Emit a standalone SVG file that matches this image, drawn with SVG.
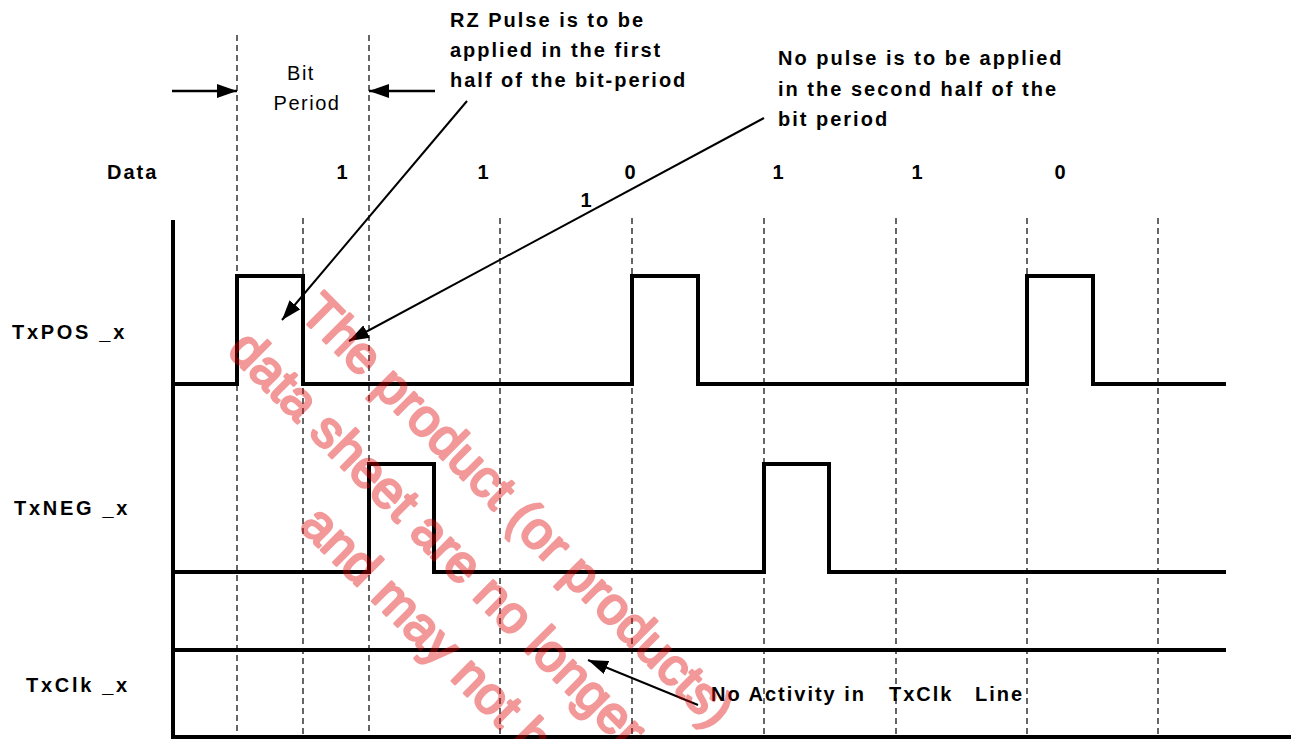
<svg xmlns="http://www.w3.org/2000/svg" width="1291" height="739" viewBox="0 0 1291 739">
<style>
.lbl{font-family:"Liberation Sans",Arial,sans-serif;font-weight:bold;font-size:20px;letter-spacing:2px;fill:#000}
.sig{font-family:"Liberation Sans",Arial,sans-serif;font-weight:bold;font-size:20px;letter-spacing:2.7px;fill:#000}
.norm{font-family:"Liberation Sans",Arial,sans-serif;font-size:20px;letter-spacing:1.5px;fill:#000}
.wave{fill:none;stroke:#000;stroke-width:4;stroke-linejoin:miter;stroke-linecap:square}
.dash{fill:none;stroke:#000;stroke-width:1.2;stroke-dasharray:6 4}
.arr{fill:none;stroke:#000;stroke-width:2;marker-end:url(#ah2)}
.arrt{fill:none;stroke:#000;stroke-width:2.5;marker-end:url(#ah2)}
.wm{font-family:"Liberation Sans",Arial,sans-serif;font-size:52px;fill:#e00000;stroke:#e00000;stroke-width:2.6;stroke-linejoin:round}
</style>
<defs>
<marker id="ah2" viewBox="0 0 10 10" refX="10" refY="5" markerWidth="20" markerHeight="14" markerUnits="userSpaceOnUse" orient="auto" preserveAspectRatio="none">
<path d="M0,0 L10,5 L0,10 Z" fill="#000"/>
</marker>
</defs>
<rect width="1291" height="739" fill="#fff"/>

<g id="grid">
<line class="dash" x1="237" y1="35" x2="237" y2="737"/>
<line class="dash" x1="303" y1="218" x2="303" y2="737"/>
<line class="dash" x1="369" y1="35" x2="369" y2="737"/>
<line class="dash" x1="500" y1="218" x2="500" y2="737"/>
<line class="dash" x1="632" y1="218" x2="632" y2="737"/>
<line class="dash" x1="764" y1="218" x2="764" y2="737"/>
<line class="dash" x1="896" y1="218" x2="896" y2="737"/>
<line class="dash" x1="1027" y1="218" x2="1027" y2="737"/>
<line class="dash" x1="1158" y1="218" x2="1158" y2="737"/>
</g>

<g id="axis">
<path class="wave" d="M173,222 V737 H1291"/>
</g>

<g id="txpos">
<path class="wave" d="M173,384 H237 V276 H303 V384 H632 V276 H698 V384 H1027 V276 H1093 V384 H1224"/>
<text class="sig" x="12" y="339">TxPOS _x</text>
</g>
<g id="txneg">
<path class="wave" d="M173,572 H369 V464 H434 V572 H764 V464 H829 V572 H1224"/>
<text class="sig" x="14" y="515">TxNEG _x</text>
</g>
<g id="txclk">
<path class="wave" d="M173,650 H1224"/>
<text class="sig" x="26" y="692">TxClk _x</text>
</g>

<g id="data">
<text class="lbl" x="107" y="179">Data</text>
<text class="lbl" x="343" y="179" text-anchor="middle">1</text>
<text class="lbl" x="484" y="179" text-anchor="middle">1</text>
<text class="lbl" x="631" y="179" text-anchor="middle">0</text>
<text class="lbl" x="779" y="179" text-anchor="middle">1</text>
<text class="lbl" x="918" y="179" text-anchor="middle">1</text>
<text class="lbl" x="1061" y="179" text-anchor="middle">0</text>
<text class="lbl" x="587" y="207" text-anchor="middle">1</text>
</g>

<g id="bitperiod">
<text class="norm" x="301" y="80" text-anchor="middle">Bit</text>
<text class="norm" x="307" y="110" text-anchor="middle">Period</text>
</g>

<g id="note-rz">
<text class="lbl" x="450" y="27">RZ Pulse is to be</text>
<text class="lbl" x="450" y="57">applied in the first</text>
<text class="lbl" x="450" y="87">half of the bit-period</text>
</g>
<g id="note-nopulse">
<text class="lbl" x="778" y="65">No pulse is to be applied</text>
<text class="lbl" x="778" y="96">in the second half of the</text>
<text class="lbl" x="778" y="126">bit period</text>
</g>
<g id="note-txclk">
<text class="lbl" y="701"><tspan x="711">No Activity in</tspan><tspan x="889">TxClk</tspan><tspan x="975">Line</tspan></text>
</g>

<g id="connectors">
<line class="arrt" x1="172" y1="91" x2="237" y2="91"/>
<line class="arrt" x1="435" y1="91" x2="369" y2="91"/>
<line class="arr" x1="467" y1="101" x2="282" y2="320"/>
<line class="arr" x1="764" y1="118" x2="349" y2="341"/>
<line class="arr" x1="698" y1="705" x2="588" y2="660"/>
</g>

<g id="watermark" opacity="0.4">
<text class="wm" transform="translate(298,315) rotate(45)">The product (or products)</text>
<text class="wm" transform="translate(226,352) rotate(45)">data sheet are no longer</text>
<text class="wm" transform="translate(298,527) rotate(45)">and may not b</text>
</g>
</svg>
